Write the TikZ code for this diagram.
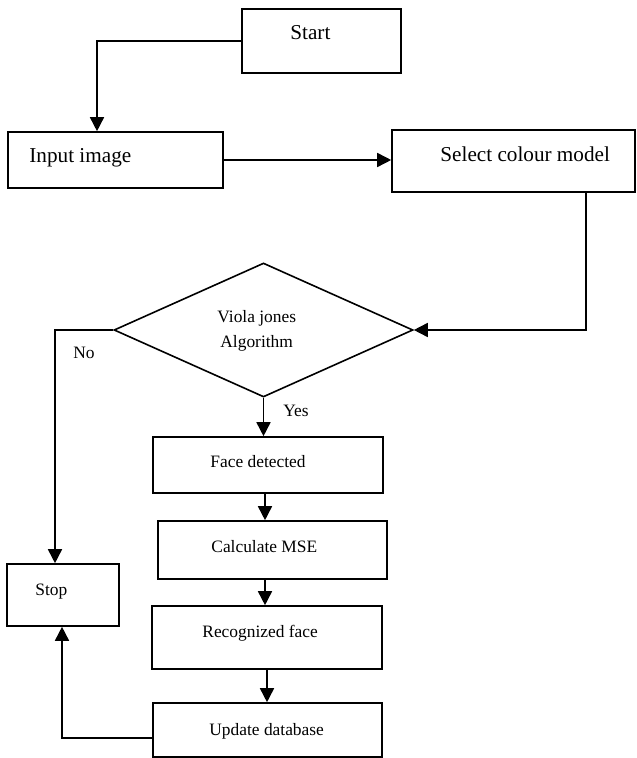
\documentclass[tikz,border=0pt]{standalone}
\usepackage{fontspec}
\setmainfont{Liberation Serif}
\usetikzlibrary{shapes.geometric, arrows.meta, positioning}

\tikzset{
  box/.style={draw, rectangle, line width=0.8pt, inner sep=0pt},
  decision/.style={draw, diamond, aspect=2.2, line width=0.8pt, inner sep=0pt},
  arr/.style={line width=0.8pt, -{Triangle[length=7pt,width=7pt]}},
  line/.style={line width=0.8pt},
  bigtxt/.style={anchor=base west, inner sep=0pt, font=\fontsize{10.6}{12}\selectfont},
  txt/.style={anchor=base west, inner sep=0pt, font=\fontsize{8.7}{10}\selectfont}
}

\begin{document}
\begin{tikzpicture}[x=0.5pt, y=-0.5pt]
\useasboundingbox (0,0) rectangle (636,758);

% boxes
\node[box, minimum width=79.5pt, minimum height=32pt] (start) at (321.5,41) {};
\node[box, minimum width=107.5pt, minimum height=28pt] (input) at (115.5,160) {};
\node[box, minimum width=121.5pt, minimum height=31pt] (select) at (513.5,161) {};
\node[decision, minimum width=149.5pt, minimum height=67pt] (vj) at (263.5,330) {};
\node[box, minimum width=115pt, minimum height=28pt] (face) at (268,465) {};
\node[box, minimum width=114.5pt, minimum height=29pt] (calc) at (272.5,550) {};
\node[box, minimum width=115pt, minimum height=31.5pt] (recog) at (267,637.5) {};
\node[box, minimum width=114.5pt, minimum height=27pt] (update) at (267.5,730) {};
\node[box, minimum width=56pt, minimum height=31pt] (stop) at (63,595) {};

% texts
\node[bigtxt] (startlbl) at (290,40) {Start};
\node[bigtxt] (inputlbl) at (29,163) {Input image};
\node[bigtxt] (selectlbl) at (440,162) {Select colour model};
\node[txt] (vjlbla) at (217,322) {Viola jones};
\node[txt] (vjlblb) at (220,347) {Algorithm};
\node[txt] (facelbl) at (210,467) {Face detected};
\node[txt] (calclbl) at (211,552) {Calculate MSE};
\node[txt] (recoglbl) at (202,637) {Recognized face};
\node[txt] (updatelbl) at (209,735) {Update database};
\node[txt] (stoplbl) at (35,595) {Stop};
\node[txt] (nolbl) at (73,358) {No};
\node[txt] (yeslbl) at (283,416) {Yes};

% connectors
\coordinate (bend1) at (97,41);
\coordinate (bend2) at (586,330);
\coordinate (bend3) at (55,330);
\coordinate (bend4) at (62,738);
\coordinate (spine) at (265,0);

\draw[arr] (start.west) -- (bend1) -- (bend1 |- input.north);
\draw[arr] (input.east) -- (input.east -| select.west);
\draw[arr] (bend2 |- select.south) -- (bend2) -- (vj.east);
\draw[arr] (vj.west) -- (bend3) -- (bend3 |- stop.north);
\draw[arr] (vj.south) -- (vj.south |- face.north);
\draw[arr] (spine |- face.south) -- (spine |- calc.north);
\draw[arr] (spine |- calc.south) -- (spine |- recog.north);
\draw[arr] (recog.south) -- (recog.south |- update.north);
\draw[arr] (update.west |- bend4) -- (bend4) -- (bend4 |- stop.south);
\end{tikzpicture}
\end{document}
